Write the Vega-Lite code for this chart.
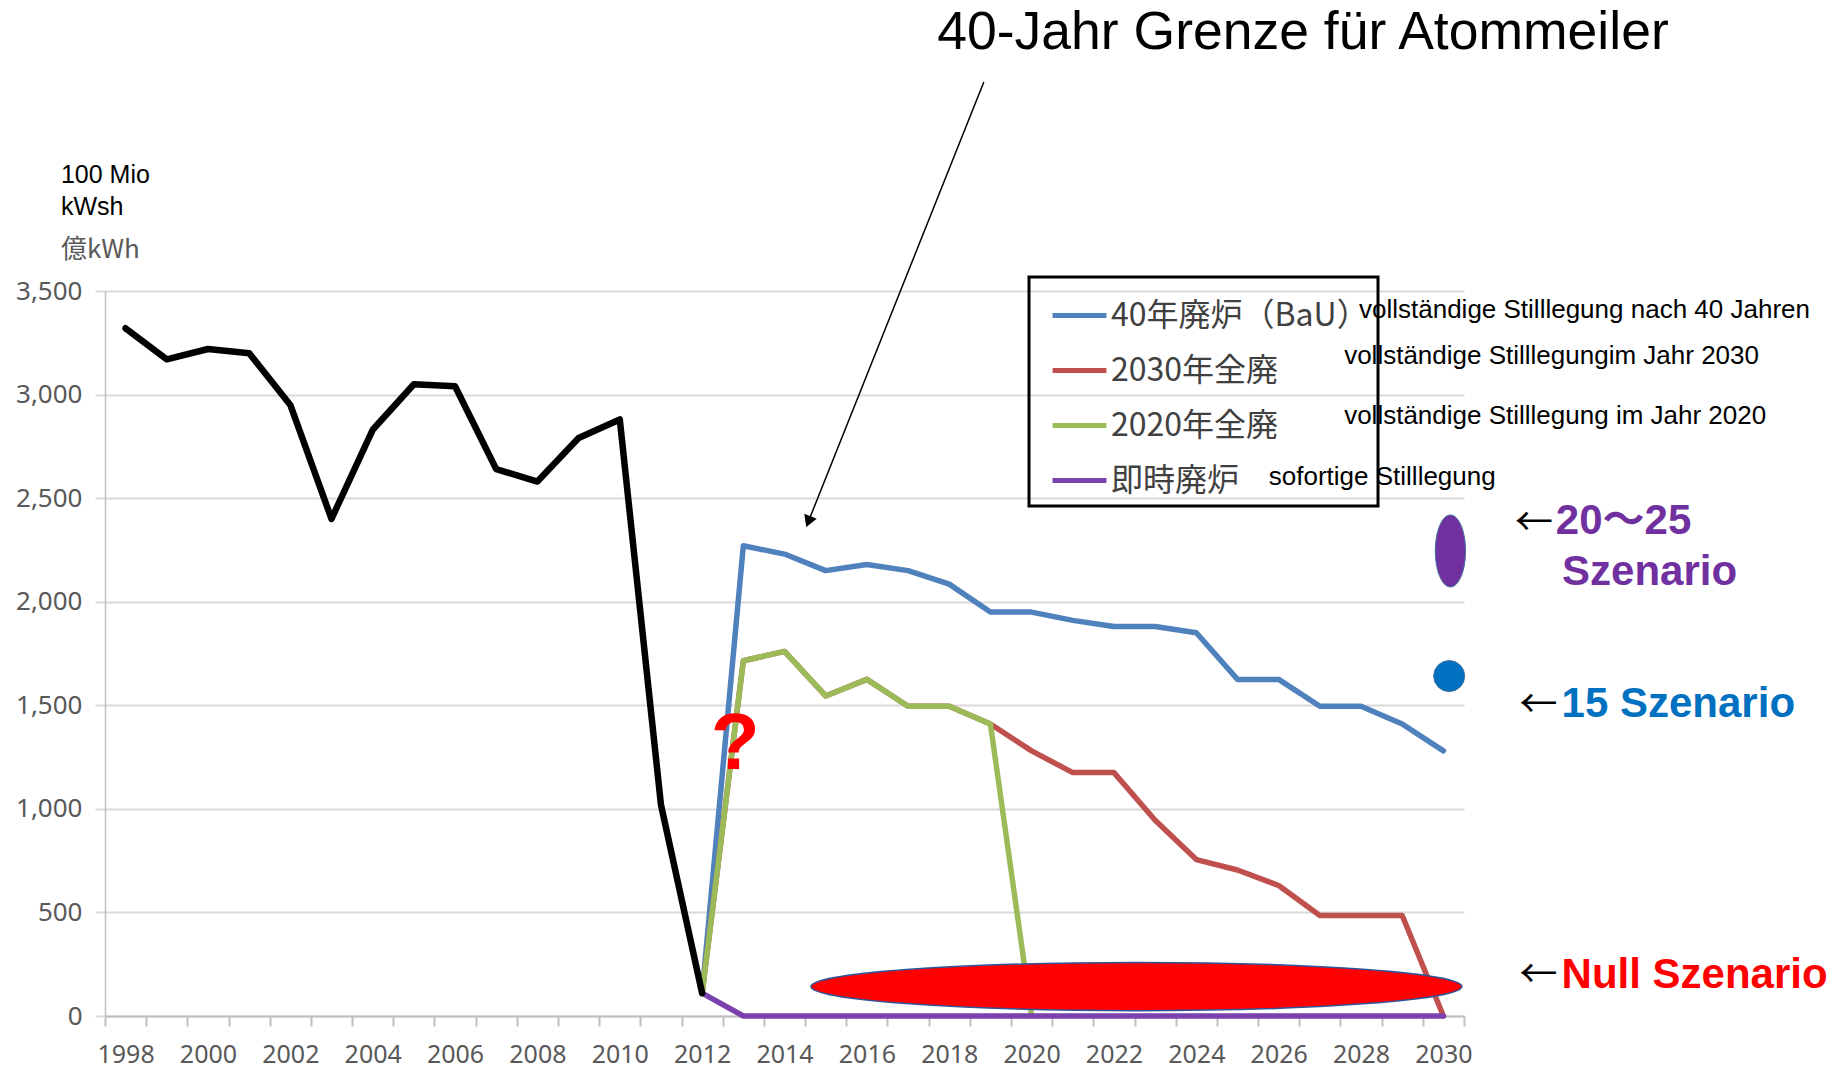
{
  "$schema": "https://vega.github.io/schema/vega-lite/v6.json",
  "width": 1359,
  "height": 725,
  "autosize": {"type": "none"},
  "padding": {"left": 105, "top": 291, "right": 373, "bottom": 54},
  "background": "white",
  "config": {"view": {"stroke": null}, "legend": {"strokeWidth": 3}},
  "datasets": {
    "hist": [
      {"year": 1998, "value": 3320}, {"year": 1999, "value": 3170}, {"year": 2000, "value": 3220},
      {"year": 2001, "value": 3200}, {"year": 2002, "value": 2950}, {"year": 2003, "value": 2400},
      {"year": 2004, "value": 2830}, {"year": 2005, "value": 3050}, {"year": 2006, "value": 3040},
      {"year": 2007, "value": 2640}, {"year": 2008, "value": 2580}, {"year": 2009, "value": 2790},
      {"year": 2010, "value": 2880}, {"year": 2011, "value": 1020}, {"year": 2012, "value": 110}
    ],
    "scen": [
      {"s": "40年廃炉（BaU）", "year": 2012, "value": 110},
      {"s": "40年廃炉（BaU）", "year": 2013, "value": 2270},
      {"s": "40年廃炉（BaU）", "year": 2014, "value": 2230},
      {"s": "40年廃炉（BaU）", "year": 2015, "value": 2150},
      {"s": "40年廃炉（BaU）", "year": 2016, "value": 2180},
      {"s": "40年廃炉（BaU）", "year": 2017, "value": 2150},
      {"s": "40年廃炉（BaU）", "year": 2018, "value": 2085},
      {"s": "40年廃炉（BaU）", "year": 2019, "value": 1950},
      {"s": "40年廃炉（BaU）", "year": 2020, "value": 1950},
      {"s": "40年廃炉（BaU）", "year": 2021, "value": 1910},
      {"s": "40年廃炉（BaU）", "year": 2022, "value": 1880},
      {"s": "40年廃炉（BaU）", "year": 2023, "value": 1880},
      {"s": "40年廃炉（BaU）", "year": 2024, "value": 1850},
      {"s": "40年廃炉（BaU）", "year": 2025, "value": 1625},
      {"s": "40年廃炉（BaU）", "year": 2026, "value": 1625},
      {"s": "40年廃炉（BaU）", "year": 2027, "value": 1495},
      {"s": "40年廃炉（BaU）", "year": 2028, "value": 1495},
      {"s": "40年廃炉（BaU）", "year": 2029, "value": 1410},
      {"s": "40年廃炉（BaU）", "year": 2030, "value": 1280},
      {"s": "2030年全廃", "year": 2012, "value": 110},
      {"s": "2030年全廃", "year": 2013, "value": 1715},
      {"s": "2030年全廃", "year": 2014, "value": 1760},
      {"s": "2030年全廃", "year": 2015, "value": 1545},
      {"s": "2030年全廃", "year": 2016, "value": 1625},
      {"s": "2030年全廃", "year": 2017, "value": 1495},
      {"s": "2030年全廃", "year": 2018, "value": 1495},
      {"s": "2030年全廃", "year": 2019, "value": 1410},
      {"s": "2030年全廃", "year": 2020, "value": 1280},
      {"s": "2030年全廃", "year": 2021, "value": 1175},
      {"s": "2030年全廃", "year": 2022, "value": 1175},
      {"s": "2030年全廃", "year": 2023, "value": 945},
      {"s": "2030年全廃", "year": 2024, "value": 755},
      {"s": "2030年全廃", "year": 2025, "value": 705},
      {"s": "2030年全廃", "year": 2026, "value": 630},
      {"s": "2030年全廃", "year": 2027, "value": 485},
      {"s": "2030年全廃", "year": 2028, "value": 485},
      {"s": "2030年全廃", "year": 2029, "value": 485},
      {"s": "2030年全廃", "year": 2030, "value": 0},
      {"s": "2020年全廃", "year": 2012, "value": 110},
      {"s": "2020年全廃", "year": 2013, "value": 1715},
      {"s": "2020年全廃", "year": 2014, "value": 1760},
      {"s": "2020年全廃", "year": 2015, "value": 1545},
      {"s": "2020年全廃", "year": 2016, "value": 1625},
      {"s": "2020年全廃", "year": 2017, "value": 1495},
      {"s": "2020年全廃", "year": 2018, "value": 1495},
      {"s": "2020年全廃", "year": 2019, "value": 1410},
      {"s": "2020年全廃", "year": 2020, "value": 0},
      {"s": "即時廃炉", "year": 2012, "value": 110},
      {"s": "即時廃炉", "year": 2013, "value": 0},
      {"s": "即時廃炉", "year": 2014, "value": 0},
      {"s": "即時廃炉", "year": 2015, "value": 0},
      {"s": "即時廃炉", "year": 2016, "value": 0},
      {"s": "即時廃炉", "year": 2017, "value": 0},
      {"s": "即時廃炉", "year": 2018, "value": 0},
      {"s": "即時廃炉", "year": 2019, "value": 0},
      {"s": "即時廃炉", "year": 2020, "value": 0},
      {"s": "即時廃炉", "year": 2021, "value": 0},
      {"s": "即時廃炉", "year": 2022, "value": 0},
      {"s": "即時廃炉", "year": 2023, "value": 0},
      {"s": "即時廃炉", "year": 2024, "value": 0},
      {"s": "即時廃炉", "year": 2025, "value": 0},
      {"s": "即時廃炉", "year": 2026, "value": 0},
      {"s": "即時廃炉", "year": 2027, "value": 0},
      {"s": "即時廃炉", "year": 2028, "value": 0},
      {"s": "即時廃炉", "year": 2029, "value": 0},
      {"s": "即時廃炉", "year": 2030, "value": 0}
    ]
  },
  "layer": [
    {
      "data": {"name": "scen"},
      "mark": {"type": "line", "strokeWidth": 5.5, "strokeJoin": "round", "strokeCap": "round"},
      "encoding": {
        "x": {
          "field": "year", "type": "quantitative", "title": null,
          "scale": {"domain": [1997.5, 2030.5], "nice": false, "zero": false},
          "axis": {
            "values": [1997.5,1998.5,1999.5,2000.5,2001.5,2002.5,2003.5,2004.5,2005.5,2006.5,2007.5,2008.5,2009.5,2010.5,2011.5,2012.5,2013.5,2014.5,2015.5,2016.5,2017.5,2018.5,2019.5,2020.5,2021.5,2022.5,2023.5,2024.5,2025.5,2026.5,2027.5,2028.5,2029.5,2030.5],
            "labelExpr": "(datum.value + 0.5) % 2 == 0 ? format(datum.value + 0.5, 'd') : ''",
            "labelOffset": 20.6,
            "grid": false,
            "domainColor": "#bfbfbf", "domainWidth": 2,
            "tickColor": "#bfbfbf", "tickWidth": 2, "tickSize": 10,
            "labelFont": "Noto Sans", "labelFontSize": 25, "labelColor": "#595959",
            "labelPadding": 16, "labelOverlap": false, "labelFlush": false, "labelBound": false
          }
        },
        "y": {
          "field": "value", "type": "quantitative", "title": null,
          "scale": {"domain": [0, 3500], "nice": false},
          "axis": {
            "values": [0, 500, 1000, 1500, 2000, 2500, 3000, 3500],
            "format": ",d",
            "grid": true, "gridColor": "#d9d9d9", "gridWidth": 2,
            "domainColor": "#bfbfbf", "domainWidth": 1.5,
            "tickColor": "#d9d9d9", "tickWidth": 2, "tickSize": 10,
            "labelFont": "Noto Sans", "labelFontSize": 26, "labelColor": "#595959",
            "labelPadding": 13
          }
        },
        "color": {
          "field": "s", "type": "nominal",
          "scale": {
            "domain": ["40年廃炉（BaU）", "2030年全廃", "2020年全廃", "即時廃炉"],
            "range": ["#4f81bd", "#c0504d", "#9bbb59", "#7b42ad"]
          },
          "legend": {
            "orient": "none", "legendX": 924, "legendY": -14, "title": null,
            "symbolType": "stroke", "symbolSize": 2900, "symbolStrokeWidth": 5,
            "symbolOffset": 12,
            "labelFont": "Noto Sans CJK JP", "labelFontSize": 32, "labelColor": "#404040",
            "labelLimit": 500,
            "rowPadding": 9, "padding": 9, "labelOffset": 2,
            "strokeColor": "#000000"
          }
        }
      }
    },
    {
      "data": {"name": "hist"},
      "mark": {"type": "line", "color": "#000000", "strokeWidth": 6.5, "strokeJoin": "round", "strokeCap": "round"},
      "encoding": {
        "x": {"field": "year", "type": "quantitative", "title": null},
        "y": {"field": "value", "type": "quantitative", "title": null}
      }
    },
    {
      "data": {"values": [{"year": 2022.545, "value": 142}]},
      "mark": {"type": "point", "filled": true, "opacity": 1, "shape": "M -1 0 A 1 0.074 0 1 1 1 0 A 1 0.074 0 1 1 -1 0 Z", "size": 423800, "fill": "#ff0000", "stroke": "#2f5597", "strokeWidth": 1.5},
      "encoding": {
        "x": {"field": "year", "type": "quantitative", "title": null},
        "y": {"field": "value", "type": "quantitative", "title": null}
      }
    },
    {
      "data": {"values": [{"year": 2030.17, "value": 2245}]},
      "mark": {"type": "point", "filled": true, "opacity": 1, "shape": "M 0 -1 A 0.42 1 0 1 1 0 1 A 0.42 1 0 1 1 0 -1 Z", "size": 5184, "fill": "#7030a0", "stroke": "#41719c", "strokeWidth": 1},
      "encoding": {
        "x": {"field": "year", "type": "quantitative", "title": null},
        "y": {"field": "value", "type": "quantitative", "title": null}
      }
    },
    {
      "data": {"values": [{"year": 2030.14, "value": 1641}]},
      "mark": {"type": "point", "filled": true, "opacity": 1, "shape": "circle", "size": 961, "fill": "#0070c0", "stroke": "#41719c", "strokeWidth": 1},
      "encoding": {
        "x": {"field": "year", "type": "quantitative", "title": null},
        "y": {"field": "value", "type": "quantitative", "title": null}
      }
    },
    {
      "data": {"values": [{"year": 2012.8, "value": 1308, "label": "?"}]},
      "mark": {"type": "text", "font": "Liberation Sans", "fontWeight": "bold", "fontSize": 80, "color": "#ff0000", "align": "center", "baseline": "middle"},
      "encoding": {
        "x": {"field": "year", "type": "quantitative", "title": null},
        "y": {"field": "value", "type": "quantitative", "title": null},
        "text": {"field": "label"}
      }
    },
    {
      "data": {"values": [{"year": 2018.84, "value": 4509, "year2": 2014.58, "value2": 2387}]},
      "mark": {"type": "rule", "color": "#000000", "strokeWidth": 1.5},
      "encoding": {
        "x": {"field": "year", "type": "quantitative", "title": null},
        "y": {"field": "value", "type": "quantitative", "title": null},
        "x2": {"field": "year2"},
        "y2": {"field": "value2"}
      }
    },
    {
      "data": {"values": [{"year": 2014.58, "value": 2387}]},
      "mark": {"type": "point", "shape": "triangle-down", "filled": true, "opacity": 1, "color": "#000000", "size": 180, "angle": 21.8},
      "encoding": {
        "x": {"field": "year", "type": "quantitative", "title": null},
        "y": {"field": "value", "type": "quantitative", "title": null}
      }
    },
    {
      "data": {"values": [{"year": 2026.59, "value": 4745, "label": "40-Jahr Grenze für Atommeiler"}]},
      "mark": {"type": "text", "font": "Liberation Sans", "fontSize": 53.5, "color": "#000000", "align": "center", "baseline": "middle"},
      "encoding": {
        "x": {"field": "year", "type": "quantitative", "title": null},
        "y": {"field": "value", "type": "quantitative", "title": null},
        "text": {"field": "label"}
      }
    },
    {
      "data": {"values": [{"year": 1996.43, "value": 4060, "label": "100 Mio"}, {"year": 1996.43, "value": 3905, "label": "kWsh"}]},
      "mark": {"type": "text", "font": "Liberation Sans", "fontSize": 25, "color": "#000000", "align": "left", "baseline": "middle"},
      "encoding": {
        "x": {"field": "year", "type": "quantitative", "title": null},
        "y": {"field": "value", "type": "quantitative", "title": null},
        "text": {"field": "label"}
      }
    },
    {
      "data": {"values": [{"year": 1996.43, "value": 3698, "label": "億kWh"}]},
      "mark": {"type": "text", "font": "Noto Sans CJK JP", "fontSize": 26, "color": "#595959", "align": "left", "baseline": "middle"},
      "encoding": {
        "x": {"field": "year", "type": "quantitative", "title": null},
        "y": {"field": "value", "type": "quantitative", "title": null},
        "text": {"field": "label"}
      }
    },
    {
      "data": {"values": [
        {"year": 2027.95, "value": 3406, "label": "vollständige Stilllegung nach 40 Jahren"},
        {"year": 2027.59, "value": 3186, "label": "vollständige Stilllegungim Jahr 2030"},
        {"year": 2027.59, "value": 2897, "label": "vollständige Stilllegung im Jahr 2020"},
        {"year": 2025.76, "value": 2602, "label": "sofortige Stilllegung"}
      ]},
      "mark": {"type": "text", "font": "Liberation Sans", "fontSize": 26, "color": "#000000", "align": "left", "baseline": "middle"},
      "encoding": {
        "x": {"field": "year", "type": "quantitative", "title": null},
        "y": {"field": "value", "type": "quantitative", "title": null},
        "text": {"field": "label"}
      }
    },
    {
      "data": {"values": [
        {"year": 2031.74, "value": 2375, "label": "←"},
        {"year": 2031.85, "value": 1497, "label": "←"},
        {"year": 2031.85, "value": 193, "label": "←"}
      ]},
      "mark": {"type": "text", "font": "Noto Sans CJK JP", "fontSize": 38, "color": "#000000", "align": "left", "baseline": "middle"},
      "encoding": {
        "x": {"field": "year", "type": "quantitative", "title": null},
        "y": {"field": "value", "type": "quantitative", "title": null},
        "text": {"field": "label"}
      }
    },
    {
      "data": {"values": [
        {"year": 2032.73, "value": 2390, "label": "20～25"},
        {"year": 2032.88, "value": 2143, "label": "Szenario"}
      ]},
      "mark": {"type": "text", "font": "Liberation Sans, Noto Sans CJK JP", "fontWeight": "bold", "fontSize": 42, "color": "#7030a0", "align": "left", "baseline": "middle"},
      "encoding": {
        "x": {"field": "year", "type": "quantitative", "title": null},
        "y": {"field": "value", "type": "quantitative", "title": null},
        "text": {"field": "label"}
      }
    },
    {
      "data": {"values": [{"year": 2032.87, "value": 1506, "label": "15 Szenario"}]},
      "mark": {"type": "text", "font": "Liberation Sans", "fontWeight": "bold", "fontSize": 42, "color": "#0070c0", "align": "left", "baseline": "middle"},
      "encoding": {
        "x": {"field": "year", "type": "quantitative", "title": null},
        "y": {"field": "value", "type": "quantitative", "title": null},
        "text": {"field": "label"}
      }
    },
    {
      "data": {"values": [{"year": 2032.87, "value": 198, "label": "Null Szenario"}]},
      "mark": {"type": "text", "font": "Liberation Sans", "fontWeight": "bold", "fontSize": 42, "color": "#ff0000", "align": "left", "baseline": "middle"},
      "encoding": {
        "x": {"field": "year", "type": "quantitative", "title": null},
        "y": {"field": "value", "type": "quantitative", "title": null},
        "text": {"field": "label"}
      }
    }
  ]
}
